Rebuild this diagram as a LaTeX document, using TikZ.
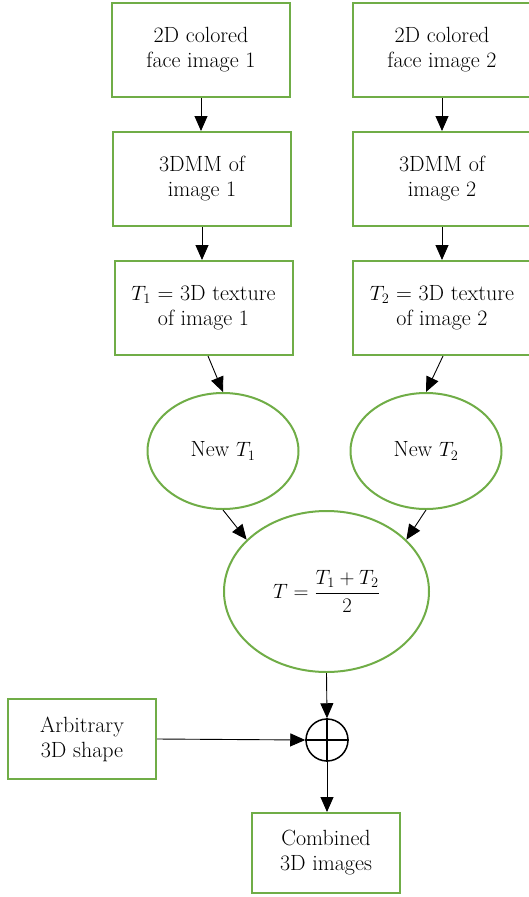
\documentclass[tikz,border=0pt]{standalone}
\usepackage{amsmath}
\usepackage{amssymb}
\usetikzlibrary{arrows.meta,shapes.geometric}
\definecolor{boxgreen}{RGB}{112,173,71}

\begin{document}
\begin{tikzpicture}[x=1pt,y=-1pt, every node/.style={font=\fontsize{22}{25}\selectfont, align=center},
  box/.style={draw=boxgreen, line width=2pt, minimum width=178pt, minimum height=94pt, inner sep=2pt},
  oval/.style={ellipse, draw=boxgreen, line width=2pt, inner sep=0pt},
  arr/.style={-{Triangle[length=15pt,width=13pt]}, line width=0.9pt}]
\useasboundingbox (0,0) rectangle (529,897);

\node[box] (img1) at (201,50) {2D colored\\face image 1};
\node[box] (img2) at (442,50) {2D colored\\face image 2};
\node[box] (dmm1) at (202,179) {3DMM of\\image 1};
\node[box] (dmm2) at (442,179) {3DMM of\\image 2};
\node[box] (tex1) at (203.5,308) {$T_1$ = 3D texture\\of image 1};
\node[box] (tex2) at (442,308) {$T_2$ = 3D texture\\of image 2};
\node[oval, minimum width=151pt, minimum height=116pt] (new1) at (223,451) {New $T_1$};
\node[oval, minimum width=151pt, minimum height=116pt] (new2) at (426,451) {New $T_2$};
\node[oval, minimum width=205pt, minimum height=161pt] (avg) at (326.5,591.5) {$T=\dfrac{T_1+T_2}{2}$};
\node[circle, draw, line width=1.5pt, minimum size=42pt, inner sep=0pt] (sum) at (327,740) {};
\draw[line width=1.5pt] (sum.north) -- (sum.south) (sum.west) -- (sum.east);
\node[box, minimum width=148pt, minimum height=80pt] (arb) at (82,739) {Arbitrary\\3D shape};
\node[box, minimum width=148pt, minimum height=80pt] (comb) at (326,853) {Combined\\3D images};

\draw[arr] (img1.south) -- (dmm1.north -| img1.south);
\draw[arr] (img2.south) -- (dmm2.north);
\draw[arr] (dmm1.south) -- (tex1.north -| dmm1.south);
\draw[arr] (dmm2.south) -- (tex2.north);
\draw[arr] ([xshift=4.5pt]tex1.south) -- (new1.north);
\draw[arr] ([xshift=1pt]tex2.south) -- (new2.north);
\draw[arr] (new1.south) -- (avg.147);
\draw[arr] (new2.south) -- (avg.33);
\draw[arr] (avg.south) -- (sum.north);
\draw[arr] (arb.east) -- (sum.west);
\draw[arr] (sum.south) -- (comb.north -| sum.south);
\end{tikzpicture}
\end{document}
